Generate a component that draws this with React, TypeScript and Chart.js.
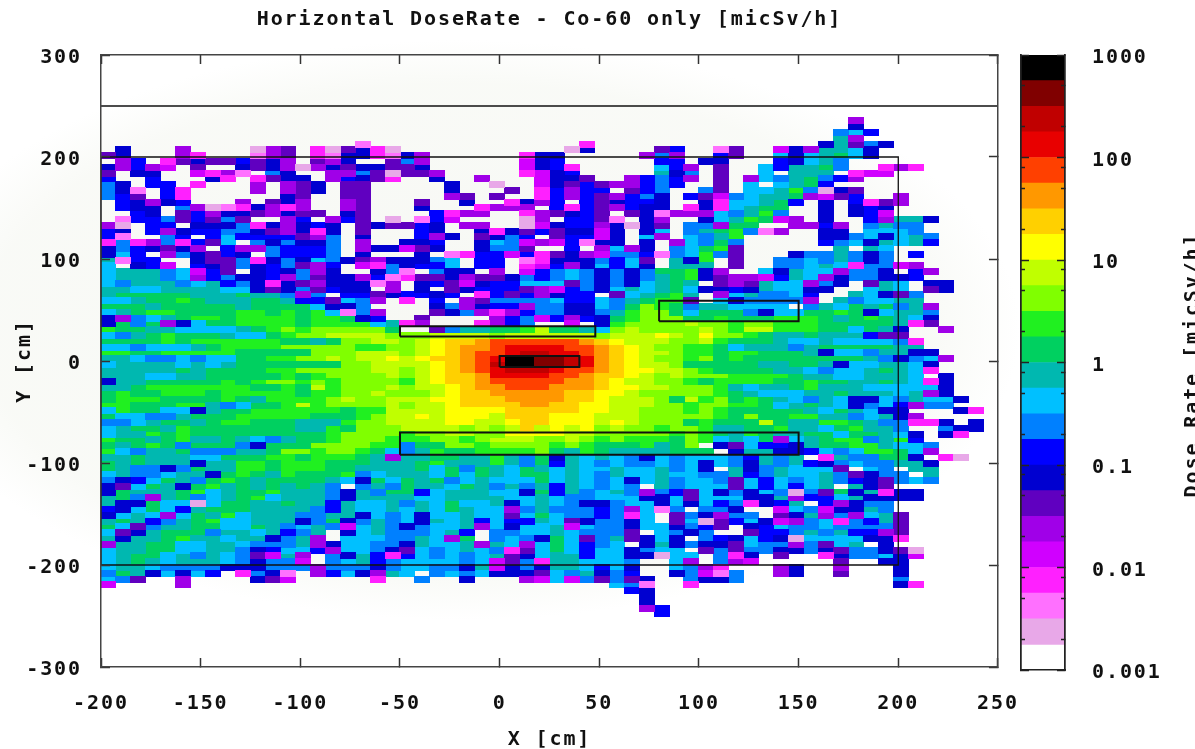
import React, { useEffect, useRef } from "react";
import { Chart, registerables } from "chart.js";

Chart.register(...registerables);

const FONT = "'DejaVu Sans Mono', 'Liberation Mono', monospace";

// colour bands of the legend, lowest first; letter a = first entry; '.' = below scale (white)
const bandColors = [
  "#e8a8e8", "#ff70ff", "#ff20ff", "#d000ff", "#a000e8", "#6000c0", "#0000d0", "#0000ff",
  "#0080ff", "#00c0ff", "#00b8b0", "#00d060", "#20f020", "#80ff00", "#c0ff00", "#ffff00",
  "#ffd000", "#ff9800", "#ff4000", "#e80000", "#c00000", "#800000", "#000000",
];
const bandEdges = [
  0.00178, 0.00316, 0.00562, 0.01, 0.0178, 0.0316, 0.0562, 0.1, 0.178, 0.316, 0.562, 1, 1.78,
  3.16, 5.62, 10, 17.8, 31.6, 56.2, 100, 178, 316, 562, 1000,
];

const binX0 = -200;
const binW = 7.5;
const binTop = 238.2;
const binH = 5.686;

// one string per row from top to bottom, one letter per 7.5 cm column
const doseRows = [
  ".................... .................... ..........e........",
  ".................... .................... ..........g........",
  ".................... .................... .........ijh.......",
  ".................... .................... .........ke........",
  ".................b.. ............c....... ........gkfig......",
  ".g...e....aef.cafgca ...........ag....fh. .bf..dgekkjg.......",
  "fg...ec...bef.cbggcb ge......cgg.....eie. .hf..jgjkljg.......",
  ".eh.cfgffhfge.feg..f ie......dgh......hh. gg...hgjki.........",
  "gehed.f..gfgeaegfggf fg......dghc.....jhe .f..jhkkli..cec....",
  "f.gg..dceb.ig..eeifa ffe.....cdgh.....kgi .f..j.kkk.cdd......",
  "h..h...gc.cfgg.ehgfc ..g..e...dggf..ehihe .f.ejiklihe........",
  "ig.hh.c...e.efg.ff.. ...g..a..dgfhfeehih. .f.j.jklh..........",
  "igb.hc....e.efg.ff.. ...g...f.chehh.fhi.. if.jjkmiagf........",
  "ihf.hc......gf..ff.. ...ef.f..chehfehig.h fdijkkledfh..e.....",
  ".hgegh...e.fge..ef.. .f..g..cgeh.hfghhg.. gcjjklh.g.hcfe.....",
  ".hgg.ieabcgece..ef.. .g...ceee.hchfehgg.c gcjkll..g.ghg......",
  "..hg.fheggfegff.gf.. ..hcee..cefghf.fgbee ejikmi..g.ghd......",
  ".bhhifhfif..eh.ehf.a .bhd....ae.hhfb.ge.. gjkmlde.g..hekkg...",
  "ea.hh.gggicgeghg.fgf fhg.ee..adghhegagf.i iell..eehe.ikii....",
  "hg.heghhiigfegcg.f.. .hg..gcgfhfggdg.gj.i klmibe..gg.jjji....",
  "hb..ih.hjhhhhfei.g.. .heg.fgih.fhhdg.je.j ikm.....ggijgjki...",
  "ciceichfj.igiggi.e.. ggh..gjidedhbgg.g.ej ili.....hijgkjkh...",
  "gihgfge.heeihhhi.egg dfg..giif..h.ejeg.ij lmf......k.kj......",
  "gjh.eigfhg.ihhhi.g.. .g.bchhdhcfgediihbij mif...giikigi.h....",
  "kbhh..gfficgigjigfeg ggij.hh.bcgggihjf.kg m.f..iijikigi......",
  "j.ghd.hgfighifeh.dci ghhj.hh.cdhegjhjg.kk k.f..iijkjciide....",
  "jkkkijdhf.ghgieg..gi b.igg.e.dhijigigillm ge..jgkjjeiig.he...",
  "jkkkijehiggheifggehb cffgeffgihijigigiklm gfeedhkjegiiggh....",
  "jikkkijkhigcgfegggbe .ghfdghhjjjfigigjklk .fefkjjeig.fkj.gg..",
  "kkjjkkkkjjgfgifhgg.e .g.fghhhfedhigjkjklj gghgkjjgg..jkj.fg..",
  "klllllkkklkkiei.hhfg hhgh.chfheghh.fjklmk .ejkiijh..kjgfi....",
  "jjkllmlkkkllkhhfjie. c.h.efiiiijhhjiklmmf .jgiiiie.kijjkk....",
  "lllklllllklllljggi.. ..gieghheiiggjilnmli kkjjjj.ikjlklike...",
  "jklmmllllmmlmlmjbie. ..fgiecehiiggikmnnlj llligjjllmlgjkki...",
  "geijklmmlmmmmlmmlgh. .f....ehidhehglmnnnl lmlllmmmlklmlkjg...",
  "glilegjllmmmmlmmmmjk ce...cehi..d.gmnnnno nnmnnmmmlllllkcf...",
  "mllkkjjjjklmnmnnnnnl ..fikkllmollkjnonnnn onmoommmlljlkg..e..",
  "jiklmlllkjjlmnnoooon nnoooonoooooonooopon pnnmlkklkkkhff.....",
  "llllmlmmmmmmllklnnoo nopqqrssssssrqpooonn omlllkjjkjjjjic....",
  "jjijjjklmmmmnnnnnmmn nopqrrsttttssrqponnm mljkkkiklllllkk....",
  "mmllmmmmmlllllnnnooo nopqrsstuuttsrqpoonm mlmmlllkgjjikkgg...",
  "kkjiijijjllmmnnonoop opqqrstwwvvutrqponnm nlmllllllllkigije..",
  "jkkkkjkjklllllllnnoo oopqrsuwwvvutrqpoonl llllkkllkgjjkkjg...",
  "kkkkklkllllmmnnnnnoo nopqrstuuutssrqppoon mllllkkjijjklkjc...",
  "kkkjjkklllllmlmnnnno nopqqrttttssrqqponon nnmmmmlkkjjkkkj.g..",
  "gkklllllmlmnnmnmnnnn mopqqrsssssrrqpoonnm lmmmmllmllkklkjcg..",
  "kklmmmmmmmllmlomnnno noopqrrsssrrrqppoonn nmkjkklmkkkjjjjjg..",
  "lmllmmmlmmmmmlmmnnon nnopqqrrrrrqqpponnnn nmlkjjjkklkkkjkeg..",
  "lmmmllllmlkmmmmnonno ooppqqqrrrrqqpooonlo mnlmlkjikjggjikjjg.",
  "mmlllmmkijllmomnnnno noopqqqqrrqqppooonnm nnmmljklkjgijheii..",
  "jmlljjgkllmmmmmmlmmo oooppppqqqqqppoonnnm nmlllllkjlkjgg...gc",
  "ljjiiklllmmmmmlllmno opopppoqqqpppooonnnn nmlnllmmkkijkge....",
  "iijkllklmmlllkkkmnno oooppoopqqpppoponnnl mlllolkkmmlkiiccg.g",
  "jkllkmlllllllkkmlnnn oooononoqopopnonnmnn mkkllmkkjlmkki..igg",
  "jkkmlmlllllllllmnnnn mnnoonnppppoonnnnnmn mlkmlkklljllkjg.gc.",
  "mllklmkklkjikllmnnnm mmnnmnooonnonmnmmmln mjkjlejklmmikmh....",
  "lklmlillliglllnnnnmm illnnmnnnnmnmlllmkln .gfjhhgkllmmkjji...",
  "mjikkliiikklnnmnnmlj ikmllmmmmnlkmlkkkkll l.gkkgghjijmmlje...",
  "kklkkkjjlllmmlmmmlke kkllkkmkilgkjkjigjij jjihkik.ckiillg.ca.",
  "lklkkkgkkmmlmmmlllkk klmkkkmkilhkjijiijij gjigkikhgijiikkg...",
  "lkiigilkkmmlmmmllkkk kljlilkjlkjkjjkjjkij g.kgikjjjf.ji.kk...",
  "jkiijkkglmlkmlllmijk kkjljlkjlljkjikjjkjj iikhikjjkifgii.k...",
  "ighjlkilmlkllllkjglj lklijkjjjljkjijgjkij jifjhjijkihgfiji...",
  "gfjlkglmklklklki.iki lkkjlkikikhkjiji.kij jjfjhjhjk.kgf......",
  "glkkklmjkllmkkkigkil lhjkkkjjglhkijkieihf jgigjiaiflgkcgg....",
  "klieklijklmjkkkigkkk kjjkkkkjjkjiijjjggjf jjjggkehhjkgggg....",
  "kggljjajllkklkkhkjjk ikjljjkgjkjiggijjgjg jhicghk.hegii......",
  "hgjljhklllkkkkihkjjk jkjlkjjeikiiihiejbi. iig..djidggki......",
  "gjkjejlkmjkkkiikkgji jgjjkjjfjljiihicj.fi geii.fgkeiejkf.....",
  "klkhiklmjjkkkgilgiki jgkjkhjhhkjfgiigj.fj afhjgdeijcihkf.....",
  "ljfikklljjlkijkidjki gijjkejgjjkdjiigjjgi hf.ghjiijiiiif.....",
  "jfgklllikkjkhik.gjki iijkh.iijjkjiiif.jig i..fhhikikhhef.....",
  "kgkklmkkjkkgike.jjji ikjel.ijigljfikfgjg. ihgjhgajjjjggc.....",
  "ekklljjkkjiiikegjjii gkjjkekjejljhij.gkgi ggfjiieifjk.g......",
  "jkklljjkkighjjhejjig fjijkjicfjljhjjgijj. fifiiggigfiigfa....",
  "jklljkikjifdke.igkhc hjijijkfgjkkhjjggajj .icg.f..cgiijgd....",
  "jklkjkkkjigiid.ijkhi jjjjijdfickkjjji..je .ied.....f..gg.....",
  "jkkjiiiigggiiieiiigi jjiigkdgigkkjhjg..ji ec...eg..e...g.....",
  "ilkgjgjh.cigb.ehjgek j.ijijgggfjikgih..gi dbi..eg..f...g.....",
  "jif..e....gfd.....c. .i..g...edjdififg..i ggi..........i.....",
  "d....e.............. ..............jib..c .............gc....",
  ".................... ...............hg... ...................",
  ".................... ................g... ...................",
  ".................... ................g... ...................",
  ".................... ................eh.. ...................",
  ".................... .................h.. ...................",
];

// drawn outlines (x, y in cm)
const outlineBig = [[-200, 200], [200, 200], [200, -200], [-200, -200], [-200, 200]];
const outlineTopLine = [[-200, 250], [250, 250]];
const outlineBoxA = [[-50, 24], [48, 24], [48, 34], [-50, 34], [-50, 24]];
const outlineBoxB = [[-50, -92], [150, -92], [150, -70], [-50, -70], [-50, -92]];
const outlineBoxC = [[80, 39], [150, 39], [150, 59], [80, 59], [80, 39]];
const outlineBoxD = [[0, -6], [40, -6], [40, 5], [0, 5], [0, -6]];

const xTicks = [-200, -150, -100, -50, 0, 50, 100, 150, 200, 250];
const yTicks = [-300, -200, -100, 0, 100, 200, 300];
const barMajorTicks = [1000, 100, 10, 1, 0.1, 0.01, 0.001];
const barMinorTicks = [
  500, 200, 80, 50, 20, 8, 5, 2, 0.8, 0.5, 0.2, 0.08, 0.05, 0.02, 0.008, 0.005, 0.002,
];
const barLabels: Record<string, string> = {
  "1000": "1000", "100": "100", "10": "10", "1": "1", "0.1": "0.1", "0.01": "0.01", "0.001": "0.001",
};

const CELL_W = 16;
const CELL_H = 7;

function cellImage(color: string) {
  const c = document.createElement("canvas");
  c.width = CELL_W;
  c.height = CELL_H;
  const g = c.getContext("2d")!;
  g.fillStyle = color;
  g.fillRect(0, 0, CELL_W, CELL_H);
  return c;
}

function cellDatasets() {
  return bandColors.map((color, level) => {
    const letter = String.fromCharCode(97 + level);
    const data: { x: number; y: number }[] = [];
    doseRows.forEach((row, r) => {
      const cells = row.replace(/ /g, "");
      for (let c = 0; c < cells.length; c++) {
        if (cells[c] === letter) {
          data.push({ x: binX0 + binW * (c + 0.5), y: binTop - binH * (r + 0.5) });
        }
      }
    });
    return {
      type: "scatter" as const,
      label: letter,
      data,
      showLine: false,
      pointStyle: cellImage(color),
      pointRadius: 7,
      pointHoverRadius: 7,
      order: 10,
    };
  });
}

function outline(points: number[][], width: number) {
  return {
    type: "scatter" as const,
    data: points.map(([x, y]) => ({ x, y })),
    showLine: true,
    borderColor: "#111",
    borderWidth: width,
    pointRadius: 0,
    order: 1,
  };
}

const spacing = {
  id: "spacing",
  beforeDraw(chart: any) {
    chart.ctx.letterSpacing = "1.9px";
  },
};

const fixTicks = (values: number[]) => (s: any) => {
  s.ticks = values.map((value) => ({ value }));
};

function mainOptions() {
  const tickFont = { family: FONT, size: 20, weight: "bold" as const };
  const inner = { color: "#222", drawOnChartArea: false, tickLength: -9, tickColor: "#333", tickWidth: 1.5, z: 1 };
  const border = { display: true, color: "#444", width: 1.5, z: 2 };
  return {
    responsive: false,
    maintainAspectRatio: false,
    animation: false as const,
    layout: { padding: { left: 0, right: 12, top: 0, bottom: 0 } },
    plugins: {
      legend: { display: false },
      tooltip: { enabled: false },
      title: {
        display: true,
        text: "Horizontal DoseRate - Co-60 only [micSv/h]",
        fullSize: false,
        color: "#111",
        font: { family: FONT, size: 20, weight: "bold" as const, lineHeight: 1.2 },
        padding: { top: 8, bottom: 23 },
      },
    },
    scales: {
      x: {
        type: "linear" as const,
        min: -200,
        max: 250,
        afterBuildTicks: fixTicks(xTicks),
        afterFit: (s: any) => { s.height = 82; },
        border,
        grid: inner,
        ticks: { color: "#111", font: tickFont, padding: 34, maxRotation: 0, autoSkip: false },
        title: { display: true, text: "X [cm]", color: "#111", font: tickFont, padding: { top: 0, bottom: -3 } },
      },
      y: {
        type: "linear" as const,
        min: -300,
        max: 300,
        afterBuildTicks: fixTicks(yTicks),
        afterFit: (s: any) => { s.width = 101; },
        border,
        grid: inner,
        ticks: { color: "#111", font: tickFont, padding: 28, autoSkip: false, labelOffset: 3 },
        title: { display: true, text: "Y [cm]", color: "#111", font: tickFont, padding: { top: 13, bottom: 0 } },
      },
      xTop: {
        type: "linear" as const,
        position: "top" as const,
        min: -200,
        max: 250,
        afterBuildTicks: fixTicks(xTicks),
        afterFit: (s: any) => { s.height = 0; },
        border,
        grid: inner,
        ticks: { display: false },
      },
      yRight: {
        type: "linear" as const,
        position: "right" as const,
        min: -300,
        max: 300,
        afterBuildTicks: fixTicks(yTicks),
        afterFit: (s: any) => { s.width = 0; },
        border,
        grid: inner,
        ticks: { display: false },
      },
    },
  };
}

function barAxis(position: "left" | "right", values: number[], length: number, labels: boolean) {
  return {
    type: "logarithmic" as const,
    position,
    min: 0.001,
    max: 1000,
    weight: labels ? 1 : 0,
    afterBuildTicks: fixTicks(values),
    afterFit: (s: any) => { s.width = labels ? 130 : 0; },
    border: { display: true, color: "#222", width: 1.5, z: 2 },
    grid: { drawOnChartArea: false, tickLength: -length, tickColor: "#222", tickWidth: 1.5, z: 1 },
    ticks: labels
      ? {
          display: true,
          color: "#111",
          padding: 35,
          autoSkip: false,
          labelOffset: 3,
          font: { family: FONT, size: 20, weight: "bold" as const },
          callback: (v: any) => barLabels[String(v)] ?? "",
        }
      : { display: false },
  };
}

const barTitle = {
  id: "barTitle",
  afterDraw(chart: any) {
    const { ctx } = chart;
    ctx.save();
    ctx.translate(198, 365);
    ctx.rotate(-Math.PI / 2);
    ctx.font = `bold 20px ${FONT}`;
    ctx.fillStyle = "#111";
    ctx.textAlign = "center";
    ctx.textBaseline = "alphabetic";
    ctx.fillText("Dose Rate [micSv/h]", 0, 0);
    ctx.restore();
  },
};

export default function App() {
  const mainRef = useRef<HTMLCanvasElement>(null);
  const barRef = useRef<HTMLCanvasElement>(null);

  useEffect(() => {
    const main = new Chart(mainRef.current!, {
      type: "scatter",
      data: {
        datasets: [
          outline(outlineBig, 1.3),
          outline(outlineTopLine, 1.3),
          outline(outlineBoxA, 2),
          outline(outlineBoxB, 2),
          outline(outlineBoxC, 2),
          outline(outlineBoxD, 2),
          ...cellDatasets(),
        ] as any,
      },
      options: mainOptions() as any,
      plugins: [spacing],
    });

    const barData = bandColors.map((_, i) => [bandEdges[i], bandEdges[i + 1]]);
    const bar = new Chart(barRef.current!, {
      type: "bar",
      data: {
        labels: ["Dose"],
        datasets: bandColors.map((color, i) => ({
          data: [barData[i]],
          backgroundColor: color,
          borderWidth: 0,
          barPercentage: 1,
          categoryPercentage: 1,
          grouped: false,
          yAxisID: "y",
        })) as any,
      },
      options: {
        responsive: false,
        maintainAspectRatio: false,
        animation: false,
        layout: { padding: { left: 21, right: 0, top: 55, bottom: 79 } },
        plugins: { legend: { display: false }, tooltip: { enabled: false } },
        scales: {
          x: {
            type: "category",
            afterFit: (s: any) => { s.height = 0; },
            border: { display: true, color: "#222", width: 1.5, z: 2 },
            grid: { display: false },
            ticks: { display: false },
          },
          y: barAxis("right", barMajorTicks, 8, true),
          yMinorR: barAxis("right", barMinorTicks, 4, false),
          yLeft: barAxis("left", barMajorTicks, 8, false),
          yMinorL: barAxis("left", barMinorTicks, 4, false),
        },
      } as any,
      plugins: [spacing, barTitle],
    });

    return () => {
      main.destroy();
      bar.destroy();
    };
  }, []);

  return (
    <div
      style={{
        position: "fixed",
        left: 0,
        top: 0,
        width: 1195,
        height: 749,
        overflow: "hidden",
        background:
          "radial-gradient(ellipse 560px 290px at 460px 330px, rgba(243,245,239,0.7) 0%, rgba(245,247,241,0.6) 85%, rgba(255,255,255,0) 100%), #fff",
      }}
    >
      <canvas
        ref={mainRef}
        width={1050}
        height={749}
        style={{ position: "absolute", left: 0, top: 0, width: 1050, height: 749, filter: "blur(0.45px)" }}
      />
      <canvas
        ref={barRef}
        width={195}
        height={749}
        style={{ position: "absolute", left: 1000, top: 0, width: 195, height: 749, filter: "blur(0.45px)" }}
      />
    </div>
  );
}
